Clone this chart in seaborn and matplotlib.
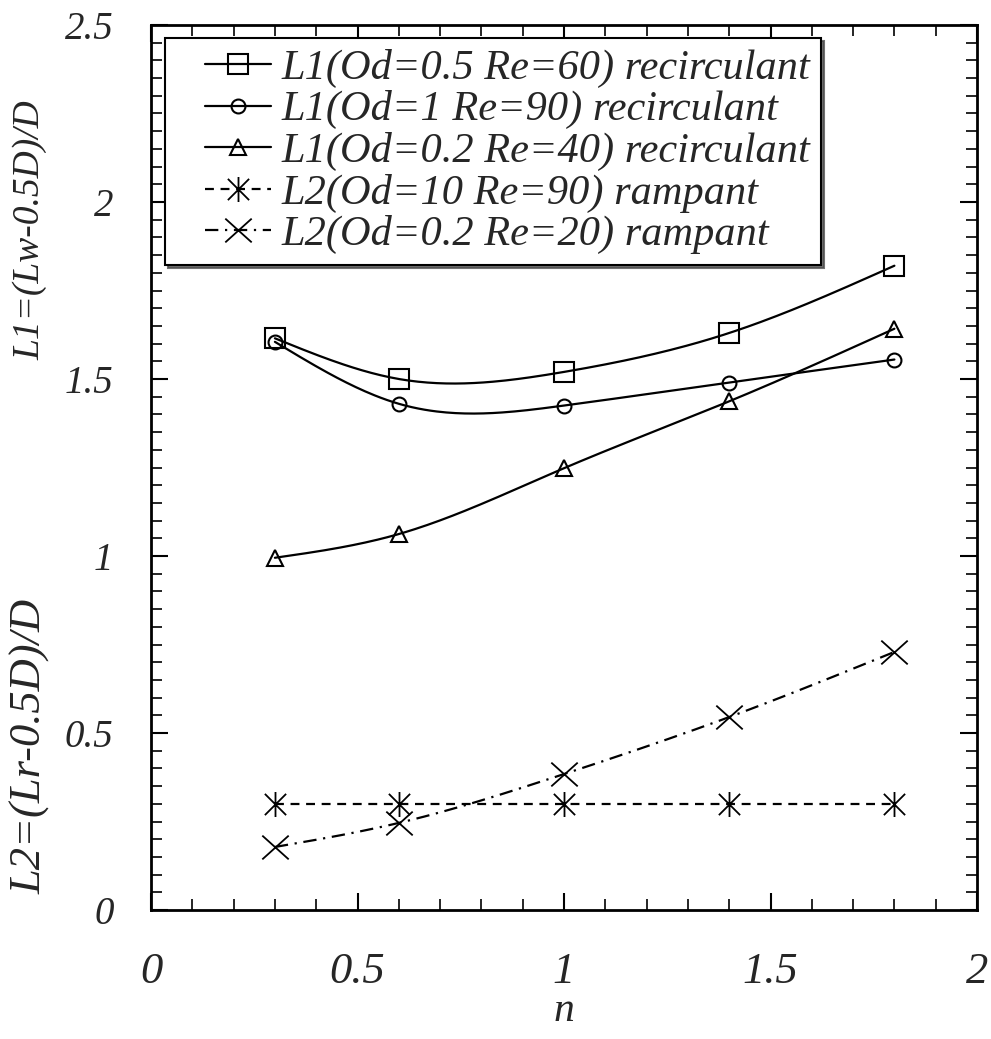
import numpy as np
import matplotlib
matplotlib.use("Agg")
import matplotlib.pyplot as plt
import seaborn as sns
from matplotlib.lines import Line2D
from matplotlib.path import Path
from matplotlib.legend_handler import HandlerLine2D
from matplotlib.ticker import MultipleLocator

# ---- data ----
n_vals = [0.3, 0.6, 1.0, 1.4, 1.8]
l1_od05_re60 = [1.615, 1.50, 1.52, 1.63, 1.82]
l1_od1_re90 = [1.605, 1.43, 1.425, 1.49, 1.555]
l1_od02_re40 = [0.995, 1.062, 1.248, 1.437, 1.642]
l2_od10_re90 = [0.30, 0.30, 0.30, 0.30, 0.30]
l2_od02_re20 = [0.178, 0.246, 0.384, 0.545, 0.729]

labels = [
    "L1(Od=0.5 Re=60) recirculant",
    "L1(Od=1 Re=90) recirculant",
    "L1(Od=0.2 Re=40) recirculant",
    "L2(Od=10 Re=90) rampant",
    "L2(Od=0.2 Re=20) rampant",
]
xticks = [0, 0.5, 1, 1.5, 2]
yticks = [0, 0.5, 1, 1.5, 2, 2.5]
ytick_labels = ["0", "0.5", "1", "1.5", "2", "2.5"]
xtick_labels = ["0", "0.5", "1", "1.5", "2"]


def natural_spline(x, y, num=200):
    x = np.asarray(x, float)
    y = np.asarray(y, float)
    n = len(x)
    h = np.diff(x)
    A = np.zeros((n, n))
    b = np.zeros(n)
    A[0, 0] = 1
    A[-1, -1] = 1
    for i in range(1, n - 1):
        A[i, i - 1] = h[i - 1]
        A[i, i] = 2 * (h[i - 1] + h[i])
        A[i, i + 1] = h[i]
        b[i] = 3 * ((y[i + 1] - y[i]) / h[i] - (y[i] - y[i - 1]) / h[i - 1])
    c = np.linalg.solve(A, b)
    xs = np.linspace(x[0], x[-1], num)
    ys = np.empty_like(xs)
    for k, xv in enumerate(xs):
        i = min(np.searchsorted(x, xv, side="right") - 1, n - 2)
        dx = xv - x[i]
        bi = (y[i + 1] - y[i]) / h[i] - h[i] * (2 * c[i] + c[i + 1]) / 3
        di = (c[i + 1] - c[i]) / (3 * h[i])
        ys[k] = y[i] + bi * dx + c[i] * dx ** 2 + di * dx ** 3
    return xs, ys


# custom marker shapes (asterisk and cross)
M, L = Path.MOVETO, Path.LINETO
star_path = Path([(0, -1), (0, 1), (-0.85, -0.85), (0.85, 0.85),
                  (-0.85, 0.85), (0.85, -0.85)], [M, L, M, L, M, L])
cross_path = Path([(-1, -0.9), (1, 0.9), (-1, 0.9), (1, -0.9)], [M, L, M, L])

sns.set_style("ticks")
plt.rcParams["font.family"] = ["Liberation Serif", "DejaVu Serif"]
plt.rcParams["font.style"] = "italic"

fig = plt.figure(figsize=(9.91, 10.39), dpi=100)
ax = fig.add_axes([151 / 991, 1 - 910 / 1039, (977 - 151) / 991, (910 - 25) / 1039])

series = [l1_od05_re60, l1_od1_re90, l1_od02_re40, l2_od10_re90, l2_od02_re20]
markers = ["s", "o", "^", star_path, cross_path]
msizes = [14, 10, 12, 18, 19]
mews = [1.5, 1.5, 1.5, 1.3, 1.3]
lstyles = ["-", "-", "-", (0, (4, 3)), (0, (6, 3, 1, 3))]

handles = []
for ys, mk, ms, mw, ls in zip(series, markers, msizes, mews, lstyles):
    xs_s, ys_s = natural_spline(n_vals, ys)
    sns.lineplot(x=xs_s, y=ys_s, ax=ax, color="black", lw=1.6, linestyle=ls,
                 sort=False, estimator=None, legend=False)
    ax.plot(n_vals, ys, linestyle="none", marker=mk, markersize=ms,
            markerfacecolor="none", markeredgecolor="black", markeredgewidth=mw)
    handles.append(Line2D([], [], color="black", lw=1.6, linestyle=ls, marker=mk,
                          markersize=ms, markerfacecolor="none",
                          markeredgecolor="black", markeredgewidth=mw))

ax.set_xlim(0, 2)
ax.set_ylim(0, 2.5)
ax.set_xticks(xticks)
ax.set_xticklabels(xtick_labels)
ax.set_yticks(yticks)
ax.set_yticklabels(ytick_labels)
ax.xaxis.set_minor_locator(MultipleLocator(0.1))
ax.yaxis.set_minor_locator(MultipleLocator(0.05))
ax.tick_params(which="both", direction="in", top=True, right=True, color="black")
ax.tick_params(which="major", length=12, width=1.5)
ax.tick_params(which="minor", length=8, width=1.2)
ax.tick_params(axis="x", which="major", labelsize=32, pad=30)
ax.tick_params(axis="y", which="major", labelsize=28, pad=27)
for sp in ax.spines.values():
    sp.set_linewidth(2)
    sp.set_color("black")

ax.set_xlabel("n", fontsize=30, labelpad=0)

fig.text(30 / 991, 1 - 230 / 1039, "L1=(Lw-0.5D)/D", rotation=90, fontsize=27,
         ha="center", va="center")
fig.text(30 / 991, 1 - 746 / 1039, "L2=(Lr-0.5D)/D", rotation=90, fontsize=32,
         ha="center", va="center")

hmap = {h: HandlerLine2D(xpad=0.7) for h in handles}
leg = ax.legend(handles, labels, loc="upper left", bbox_to_anchor=(0.017, 0.985),
                fontsize=30.5, frameon=True, fancybox=False,
                shadow={"color": "0.3", "alpha": 0.8},
                handlelength=2.25, handletextpad=0.25, borderpad=0.25,
                labelspacing=0.06, borderaxespad=0, handler_map=hmap)
leg.get_frame().set_edgecolor("black")
leg.get_frame().set_linewidth(1.5)

fig.savefig("out.png", dpi=100)
